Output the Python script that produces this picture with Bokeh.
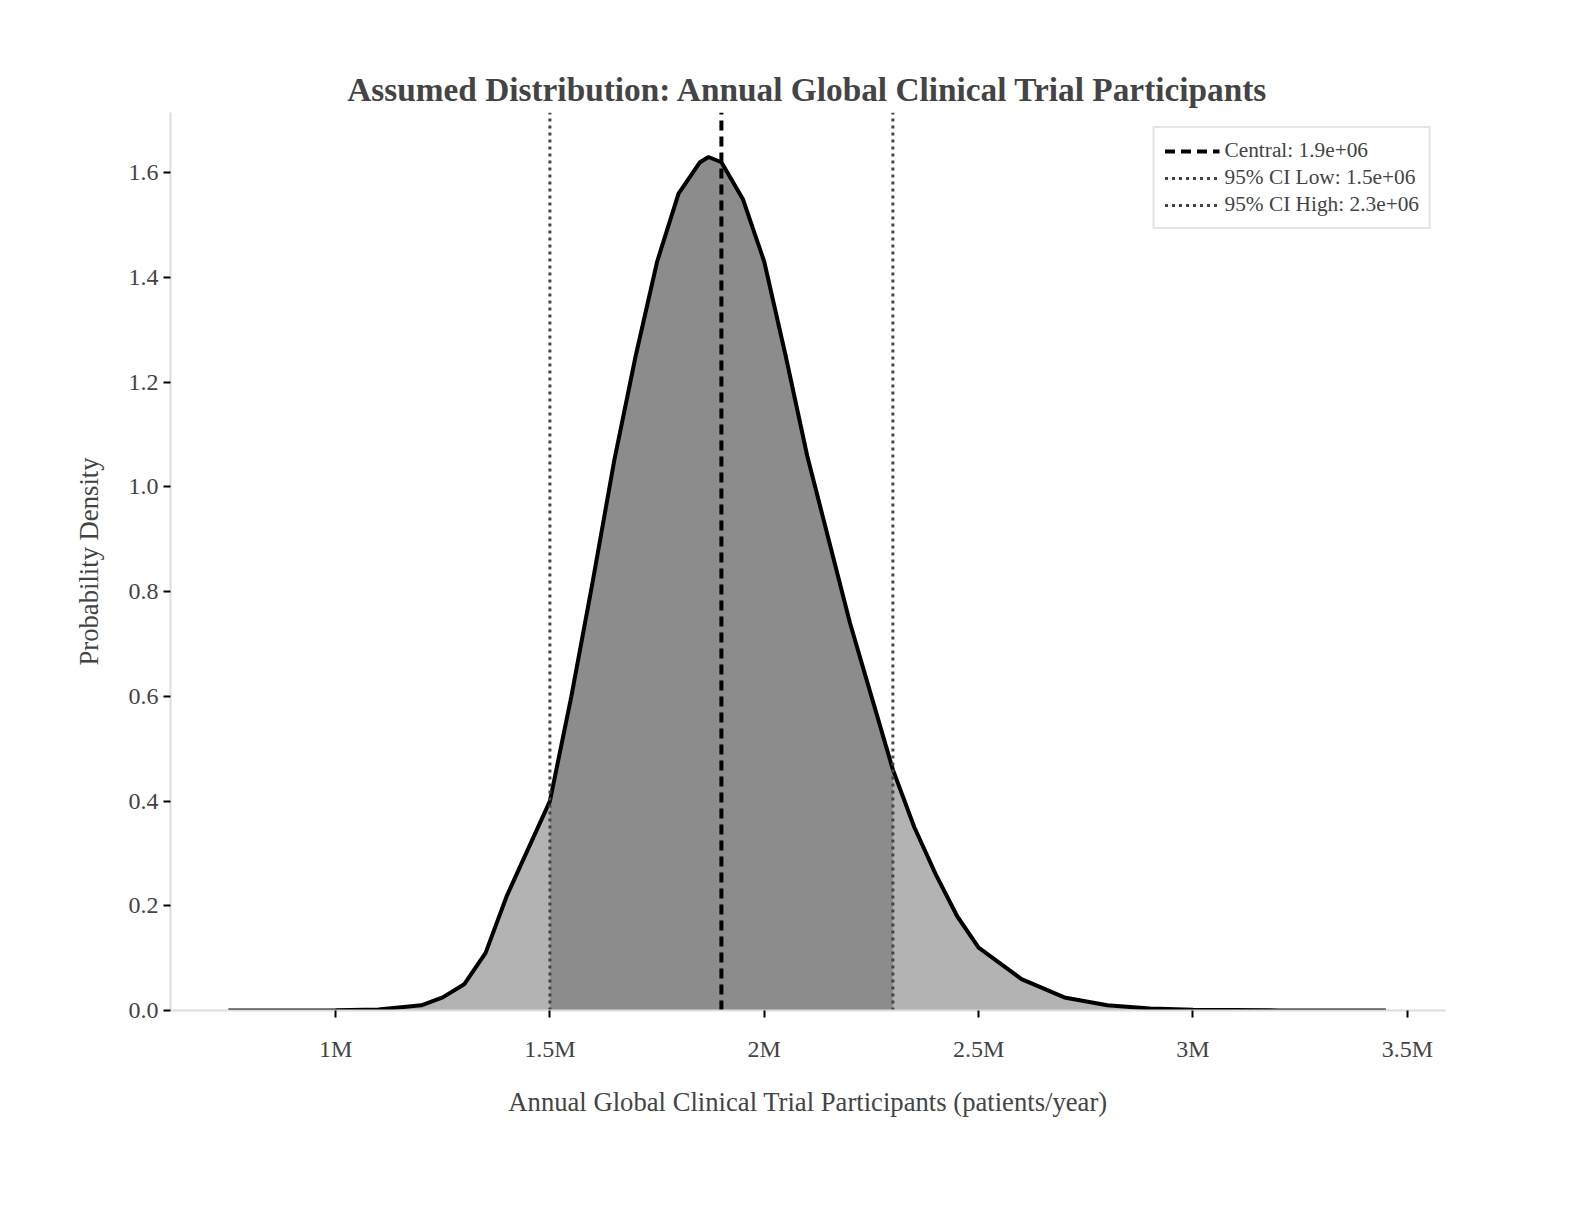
import numpy as np
from bokeh.plotting import figure
from bokeh.models import Label, FixedTicker, Range1d
from bokeh.embed import file_html
from bokeh.resources import INLINE

# curve (x: participants/year, y: density in units of 1e-6)
xs_m = [0.75, 1.0, 1.1, 1.2, 1.25, 1.3, 1.35, 1.4, 1.45, 1.5, 1.55, 1.6, 1.65, 1.7, 1.75, 1.8, 1.85, 1.87,
        1.9, 1.95, 2.0, 2.05, 2.1, 2.15, 2.2, 2.25, 2.3, 2.35, 2.4, 2.45, 2.5, 2.6, 2.7, 2.8, 2.9, 3.0, 3.2, 3.45]
dens = [0.0, 0.0005, 0.002, 0.01, 0.025, 0.05, 0.11, 0.22, 0.31, 0.40, 0.60, 0.82, 1.05, 1.25, 1.43, 1.56, 1.62, 1.63,
        1.62, 1.55, 1.43, 1.25, 1.06, 0.90, 0.74, 0.60, 0.46, 0.35, 0.26, 0.18, 0.12, 0.06, 0.025, 0.01, 0.004, 0.0015, 0.0002, 0.0]
central = 1.9e6
ci_low = 1.5e6
ci_high = 2.3e6
x_ticks = [1e6, 1.5e6, 2e6, 2.5e6, 3e6, 3.5e6]
x_tick_labels = ["1M", "1.5M", "2M", "2.5M", "3M", "3.5M"]
y_ticks = [0.0, 0.2, 0.4, 0.6, 0.8, 1.0, 1.2, 1.4, 1.6]

xs = np.array(xs_m) * 1e6
ys = np.array(dens)
F = "Liberation Serif"
YTOP = 1.715

p = figure(width=1560, height=1210, output_backend="svg", toolbar_location=None,
           x_range=Range1d(0.615e6, 3.589e6), y_range=Range1d(0, YTOP),
           min_border_left=170, min_border_right=115, min_border_top=112, min_border_bottom=200)
p.title.text = "Assumed Distribution: Annual Global Clinical Trial Participants"
p.title.align = "center"
p.title.text_font = F
p.title.text_font_size = "25pt"
p.title.text_font_style = "bold"
p.grid.visible = False
p.outline_line_color = None

p.varea(x=xs, y1=0, y2=ys, fill_color="#b3b3b3")
m = (xs >= ci_low) & (xs <= ci_high)
p.varea(x=xs[m], y1=0, y2=ys[m], fill_color="#8c8c8c")
p.line(xs, ys, line_color="black", line_width=4)

p.segment(x0=[central], y0=[0], x1=[central], y1=[YTOP], line_color="black", line_width=4,
          line_dash="10 6", legend_label="Central: 1.9e+06")
p.segment(x0=[ci_low], y0=[0], x1=[ci_low], y1=[YTOP], line_color="#444444", line_width=3,
          line_dash="3 4", legend_label="95% CI Low: 1.5e+06")
p.segment(x0=[ci_high], y0=[0], x1=[ci_high], y1=[YTOP], line_color="#444444", line_width=3,
          line_dash="3 4", legend_label="95% CI High: 2.3e+06")

lg = p.legend[0]
lg.location = "top_right"
lg.label_text_font = F
lg.label_text_font_size = "16pt"
lg.border_line_color = "#cccccc"
lg.border_line_width = 2
lg.background_fill_alpha = 0.9
lg.spacing = 2
lg.margin = 14
lg.glyph_width = 55

for ax in (p.xaxis[0], p.yaxis[0]):
    ax.axis_line_color = "#dddddd"
    ax.axis_line_width = 2
    ax.major_tick_in = 0
    ax.major_tick_out = 7
    ax.major_tick_line_width = 2
    ax.minor_tick_line_color = None
    ax.major_label_text_font = F
    ax.major_label_text_font_size = "18pt"
    ax.axis_label_text_font = F
    ax.axis_label_text_font_size = "20pt"
    ax.axis_label_text_font_style = "normal"

p.xaxis.ticker = FixedTicker(ticks=x_ticks)
p.xaxis.major_label_overrides = {t: l for t, l in zip(x_ticks, x_tick_labels)}
p.xaxis.axis_label = "Annual Global Clinical Trial Participants (patients/year)"
p.xaxis.major_label_standoff = 18
p.xaxis.axis_label_standoff = 22
p.yaxis.ticker = FixedTicker(ticks=y_ticks)
p.yaxis.major_label_overrides = {t: f"{t:.1f}" for t in y_ticks}
p.yaxis.axis_label = "Probability Density"
p.yaxis.axis_label_standoff = 22

p.add_layout(Label(x=178 - 8 - 170 + 0, y=0, text="", x_units="screen", y_units="screen"))
p.add_layout(Label(x=0, y=YTOP, x_offset=0, y_offset=2, x_units="screen", text="1e\u22126",
                   text_font=F, text_font_size="18pt"))
p.add_layout(Label(x=1340, y=-170, x_units="screen", y_units="screen", text="WarOnDisease.org",
                   text_font=F, text_font_size="17pt", text_color="#555555", text_align="right"))

open("out.html", "w").write(file_html(p, INLINE))
